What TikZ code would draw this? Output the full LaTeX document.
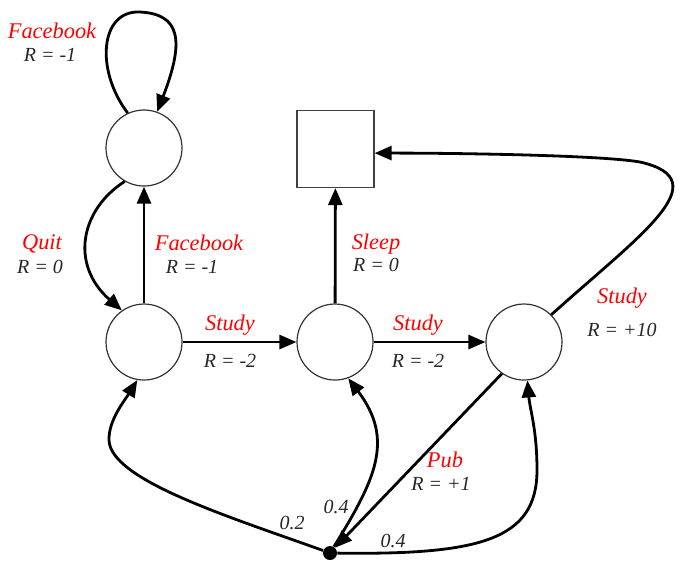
\documentclass[tikz,border=0pt]{standalone}
\usepackage{fontspec}
\setmainfont{Liberation Serif}
\usetikzlibrary{arrows.meta}

\begin{document}
\begin{tikzpicture}[x=0.5pt, y=-0.5pt,
    state/.style={circle, draw=black!80, line width=0.6pt, minimum size=38pt, inner sep=0pt},
    sink/.style={rectangle, draw=black!75, line width=0.6pt, minimum size=38.5pt, inner sep=0pt},
    chance/.style={circle, fill=black, minimum size=7pt, inner sep=0pt},
    act/.style={text=red, font=\itshape\fontsize{11.2}{13}\selectfont, inner sep=0pt},
    rew/.style={text=black!85, font=\itshape\fontsize{10}{12}\selectfont, inner sep=0pt},
    arr/.style={line width=1.4pt, -{Triangle[length=8.5pt, width=7pt]}}
    ]
  \useasboundingbox (0,0) rectangle (700,570);
  % states
  \node[state] (facebook) at (144,148) {};
  \node[state] (class1) at (144,342) {};
  \node[state] (class2) at (335,342) {};
  \node[state] (class3) at (524,342) {};
  \node[sink] (sleep) at (335.5,149) {};
  \node[chance] (pub) at (330,553) {};

  % actions and rewards
  \node[act] (afb) at (52,31) {Facebook};
  \node[rew] (rfb) at (50,55) {R = -1};
  \node[act] (aquit) at (42,244) {Quit};
  \node[rew] (rquit) at (40,267) {R = 0};
  \node[act] (afb2) at (199,243) {Facebook};
  \node[rew] (rfb2) at (192,267) {R = -1};
  \node[act] (ast1) at (230,325) {Study};
  \node[rew] (rst1) at (230,361) {R = -2};
  \node[act] (asleep) at (376,244) {Sleep};
  \node[rew] (rsleep) at (376,265) {R = 0};
  \node[act] (ast2) at (418,325) {Study};
  \node[rew] (rst2) at (418,361) {R = -2};
  \node[act] (ast3) at (622,298) {Study};
  \node[rew] (rst3) at (622,330) {R = +10};
  \node[act] (apub) at (445,460) {Pub};
  \node[rew] (rpub) at (441,484) {R = +1};
  % probabilities
  \node[rew] (p1) at (292,523) {0.2};
  \node[rew] (p2) at (336,507) {0.4};
  \node[rew] (p3) at (393,541) {0.4};

  % transitions
  \draw[arr] (facebook.115) .. controls (95,70) and (100,10) .. (140,12)
             .. controls (180,14) and (185,40) .. (facebook.70);
  \draw[arr] (facebook.240) .. controls (80,210) and (70,265) .. (class1.125);
  \draw[arr] (class1) -- (facebook);
  \draw[arr] (class1) -- (class2);
  \draw[arr] (class2) -- (class3);
  \draw[arr] (class2) -- (sleep);
  \draw[arr] (class3.45) .. controls (640,235) and (720,180) .. (640,162)
             .. controls (600,155) and (450,153) .. (sleep.-6);
  \draw[arr] (class3.235) -- (pub);
  \draw[arr] (pub) .. controls (230,517) and (110,480) .. (109,440)
             .. controls (108.5,420) and (125,400) .. (class1.260);
  \draw[arr] (pub) .. controls (375,480) and (395,440) .. (class2.290);
  \draw[arr] (pub) .. controls (480,555) and (537,540) .. (537,470)
             .. controls (537,430) and (530,410) .. (class3.275);
\end{tikzpicture}
\end{document}
